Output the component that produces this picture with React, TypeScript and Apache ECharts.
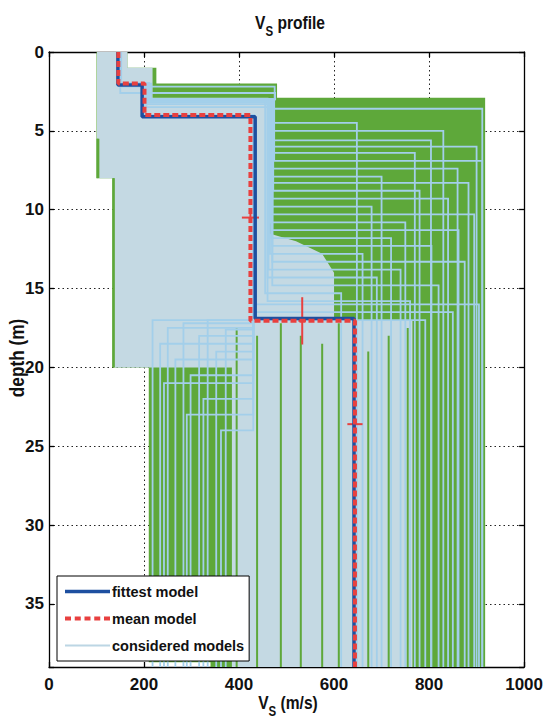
import React, { useEffect, useRef } from "react";
import * as echarts from "echarts";

const FONT = "'Liberation Sans Narrow', 'Liberation Sans', Arial, sans-serif";
const W = 546;
const H = 722;

// axes
const vsMin = 0;
const vsMax = 1000;
const vsStep = 200;
const depthMin = 0;
const depthMax = 39;
const depthStep = 5;

// fittest and mean model (layer velocities, interface depths)
const fittestVs = [145, 196, 434, 642];
const fittestInterfaces = [2.1, 4.1, 16.9];
const meanVs = [146, 201, 424, 644];
const meanInterfaces = [2.0, 4.0, 17.05];
// [vs, depth, vs half-width, depth half-width]
const meanErrorBars = [
  [424, 10.5, 18, 0.35],
  [533, 17.05, 8, 1.5],
  [644, 23.6, 16, 0.35],
];

// envelope of all considered models (vs, depth)
const allModelsEnvelope = [
  [100, 0], [165, 0], [165, 1.0], [226, 1.0], [226, 2.0], [480, 2.0], [480, 2.9],
  [918, 2.9], [918, 39], [340, 39], [340, 38.7], [210, 38.7], [210, 20], [133, 20],
  [133, 8], [100, 8],
];
// dense low-misfit zones
const goodZoneUpper = [
  [101, 0], [165, 0], [165, 1.0], [218, 1.0], [218, 2.9], [462, 2.9], [462, 11.5],
  [520, 12.0], [575, 12.8], [600, 14.0], [600, 17.2], [462, 17.2], [462, 20.0],
  [138, 20.0], [138, 8.0], [106, 8.0], [106, 5.5], [101, 5.5],
];
const goodZoneLower = [
  [385, 17.0], [765, 17.0], [765, 39], [385, 39],
];

// considered models: [vs1, z1, vs2, z2, vs3, z3, vs4]
const consideredModels = [
  [150, 2.0, 210, 3.0, 470, 3.6, 912],
  [150, 2.0, 205, 3.1, 472, 4.5, 648],
  [148, 2.1, 200, 3.2, 468, 5.0, 830],
  [152, 2.0, 215, 3.0, 470, 5.6, 804],
  [150, 2.2, 475, 3.0, 466, 6.0, 900],
  [150, 2.0, 205, 3.3, 470, 6.4, 770],
  [150, 2.0, 210, 3.0, 474, 6.9, 912],
  [150, 2.6, 476, 3.0, 470, 7.4, 860],
  [150, 2.0, 205, 3.5, 468, 7.9, 700],
  [150, 2.0, 210, 3.1, 470, 8.3, 883],
  [150, 2.0, 210, 3.0, 472, 8.8, 780],
  [150, 2.0, 210, 3.0, 470, 9.3, 840],
  [150, 2.0, 210, 3.0, 468, 9.8, 679],
  [150, 2.0, 210, 3.0, 470, 10.3, 895],
  [150, 2.0, 210, 3.0, 466, 10.8, 750],
  [150, 2.0, 210, 3.0, 470, 11.3, 862],
  [150, 2.0, 210, 3.0, 468, 11.8, 720],
  [150, 2.0, 210, 3.0, 470, 12.3, 805],
  [150, 2.0, 210, 3.0, 465, 12.8, 660],
  [150, 2.0, 210, 3.0, 470, 13.3, 875],
  [150, 2.0, 210, 3.0, 462, 13.8, 740],
  [150, 2.0, 210, 3.0, 460, 14.3, 690],
  [150, 2.0, 210, 3.0, 470, 14.8, 820],
  [150, 2.0, 210, 3.0, 455, 15.3, 615],
  [150, 2.0, 210, 3.0, 460, 15.8, 760],
  [150, 2.0, 200, 4.0, 430, 17.0, 218],
  [150, 2.0, 200, 4.0, 430, 18.5, 234],
  [150, 2.0, 200, 4.0, 430, 21.0, 242],
  [150, 2.0, 200, 4.0, 430, 17.5, 250],
  [150, 2.0, 200, 4.0, 430, 19.5, 266],
  [150, 2.0, 200, 4.0, 430, 17.2, 283],
  [150, 2.0, 200, 4.0, 430, 23.0, 290],
  [150, 2.0, 200, 4.0, 430, 20.5, 298],
  [150, 2.0, 200, 4.0, 430, 18.0, 316],
  [150, 2.0, 200, 4.0, 430, 22.0, 325],
  [150, 2.0, 200, 4.0, 430, 17.0, 334],
  [150, 2.0, 200, 4.0, 430, 19.0, 352],
  [150, 2.0, 200, 4.0, 430, 24.0, 362],
  [150, 2.0, 200, 4.0, 430, 17.6, 372],
  [150, 2.0, 200, 4.0, 430, 17.0, 792],
  [150, 2.0, 200, 4.0, 430, 16.5, 850],
  [150, 2.0, 200, 4.0, 430, 16.0, 905],
];

// higher-misfit model half-spaces inside the dense zones: [vs, zTop, zBottom]
const poorModelStripes = [
  [102, 5.5, 8], [136, 8, 20],
  [395, 17.5, 39], [438, 18, 39], [488, 17.2, 39], [530, 18, 39], [575, 18.5, 39],
  [610, 17.2, 39], [672, 19, 39], [715, 18, 39], [755, 17.5, 39],
];

const GREEN = "#5ea83a";
const LIGHT = "#c4d9e3";
const STRIPE = "#a3cfea";
const BLUE = "#1d4fa0";
const RED = "#e8403f";
const PALE = "#bcd6e4";

function profile(vs: number[], z: number[]) {
  const pts: number[][] = [];
  let top = depthMin;
  for (let i = 0; i < vs.length; i++) {
    const bottom = i < z.length ? z[i] : depthMax;
    pts.push([vs[i], top], [vs[i], bottom]);
    top = bottom;
  }
  return pts;
}

const consideredProfiles = consideredModels.map((m) =>
  profile([m[0], m[2], m[4], m[6]], [m[1], m[3], m[5]])
);

// legend icons (invisible corner dots fix the 45x14 box)
const BOX = "M0 0h0.01v0.01H0zM44.99 13.99h0.01v0.01h-0.01z";
const ICON_SOLID = `path://${BOX}M0 5.2h45v3.6H0z`;
const ICON_DASH = `path://${BOX}M0 5h6v4H0zM9.75 5h6v4h-6zM19.5 5h6v4h-6zM29.25 5h6v4h-6zM39 5h6v4h-6z`;
const ICON_THIN = `path://${BOX}M0 6h45v2H0z`;

function zoneSeries(pts: number[][], color: string) {
  return {
    type: "custom",
    silent: true,
    clip: true,
    data: [pts[0]],
    renderItem: (_params: any, api: any) => ({
      type: "polygon",
      shape: { points: pts.map((p) => api.coord(p)) },
      style: { fill: color, stroke: null },
    }),
  };
}

export default function App() {
  const ref = useRef<HTMLDivElement>(null);

  useEffect(() => {
    if (!ref.current) return;
    const chart = echarts.init(ref.current, null, { renderer: "svg" });

    const ctx = document.createElement("canvas").getContext("2d") as CanvasRenderingContext2D;
    const measure = (t: string, size: number) => {
      ctx.font = `bold ${size}px ${FONT}`;
      return ctx.measureText(t).width;
    };

    const subText = (cx: number, cy: number, main: string, sub: string, rest: string, size: number, subSize: number, drop: number, sx: number) => {
      const w1 = measure(main, size) * sx;
      const w2 = measure(sub, subSize) * sx;
      const w3 = measure(rest, size) * sx;
      const x0 = cx - (w1 + w2 + w3) / 2;
      const base = { fontFamily: FONT, fontWeight: "bold", fill: "#111", textAlign: "left", textVerticalAlign: "middle", align: "left", verticalAlign: "middle" };
      return [
        { type: "text", x: x0, y: cy, scaleX: sx, style: { ...base, text: main, fontSize: size } },
        { type: "text", x: x0 + w1, y: cy + drop, scaleX: sx, style: { ...base, text: sub, fontSize: subSize } },
        { type: "text", x: x0 + w1 + w2, y: cy, scaleX: sx, style: { ...base, text: rest, fontSize: size } },
      ];
    };

    const axisLine = { show: true, onZero: false, lineStyle: { color: "#000", width: 1.3 } };
    const axisTick = { show: true, inside: true, length: 5, lineStyle: { color: "#000", width: 1.3 } };
    const split = { show: true, lineStyle: { color: "#222", width: 1, type: [1.5, 3] } };
    const labelStyle = { fontFamily: FONT, fontSize: 17, fontWeight: "bold", color: "#111" };

    const option: any = {
      animation: false,
      backgroundColor: "#ffffff",
      grid: { left: 49, right: 17, top: 52, bottom: 55, containLabel: false },
      xAxis: [
        { type: "value", min: vsMin, max: vsMax, interval: vsStep, position: "bottom", axisLine, axisTick, axisLabel: { ...labelStyle, margin: 9, formatter: (v: number) => String(v) }, splitLine: split },
        { type: "value", min: vsMin, max: vsMax, interval: vsStep, position: "top", axisLine, axisTick, axisLabel: { show: false }, splitLine: { show: false } },
      ],
      yAxis: [
        { type: "value", min: depthMin, max: depthMax, interval: depthStep, inverse: true, position: "left", axisLine, axisTick, axisLabel: { ...labelStyle, margin: 5, formatter: (v: number) => (v % depthStep === 0 ? String(v) : "") }, splitLine: split },
        { type: "value", min: depthMin, max: depthMax, interval: depthStep, inverse: true, position: "right", axisLine, axisTick, axisLabel: { show: false }, splitLine: { show: false } },
      ],
      legend: {
        data: [
          { name: "fittest model", icon: ICON_SOLID },
          { name: "mean model", icon: ICON_DASH },
          { name: "considered models", icon: ICON_THIN },
        ],
        orient: "vertical",
        left: 57,
        top: 576,
        itemWidth: 45,
        itemHeight: 14,
        itemGap: 12,
        padding: [8, 5, 8, 8],
        backgroundColor: "#fff",
        borderColor: "#000",
        borderWidth: 1,
        borderRadius: 0,
        selectedMode: false,
        textStyle: { fontFamily: FONT, fontSize: 14.5, fontWeight: "bold", color: "#111", padding: [0, 0, 0, -3] },
      },
      graphic: [
        ...subText(290, 22, "V", "S", " profile", 19, 14, 9, 0.82),
        ...subText(288, 702, "V", "S", " (m/s)", 19, 14, 9, 0.82),
        { type: "text", x: 17, y: 358, rotation: Math.PI / 2, scaleX: 0.86, style: { text: "depth (m)", fontFamily: FONT, fontWeight: "bold", fontSize: 20, fill: "#111", textAlign: "center", textVerticalAlign: "middle", align: "center", verticalAlign: "middle" } },
      ],
      series: [
        zoneSeries(allModelsEnvelope, GREEN),
        zoneSeries(goodZoneUpper, LIGHT),
        zoneSeries(goodZoneLower, LIGHT),
        {
          type: "custom",
          silent: true,
          clip: true,
          data: poorModelStripes.map((s) => [s[0], s[1]]),
          renderItem: (params: any, api: any) => {
            const s = poorModelStripes[params.dataIndex];
            const a = api.coord([s[0], s[1]]);
            const b = api.coord([s[0], s[2]]);
            return { type: "line", shape: { x1: a[0], y1: a[1], x2: b[0], y2: b[1] }, style: { stroke: GREEN, lineWidth: 2 } };
          },
        },
        {
          type: "custom",
          silent: true,
          clip: true,
          data: consideredModels.map((m) => [m[6], m[5]]),
          renderItem: (params: any, api: any) => {
            const pts = consideredProfiles[params.dataIndex].map((p) => api.coord(p));
            return { type: "polyline", shape: { points: pts }, style: { stroke: STRIPE, lineWidth: 1.8, fill: null } };
          },
        },
        {
          name: "considered models",
          type: "line",
          data: [],
          symbol: "none",
          itemStyle: { color: PALE },
          lineStyle: { color: PALE, width: 2 },
        },
        {
          name: "fittest model",
          type: "line",
          data: profile(fittestVs, fittestInterfaces),
          symbol: "none",
          silent: true,
          itemStyle: { color: BLUE },
          lineStyle: { color: BLUE, width: 3.5 },
        },
        {
          name: "mean model",
          type: "line",
          data: profile(meanVs, meanInterfaces),
          symbol: "none",
          silent: true,
          itemStyle: { color: RED },
          lineStyle: { color: RED, width: 4, type: [6, 3] },
        },
        {
          type: "custom",
          silent: true,
          clip: true,
          data: meanErrorBars.map((e) => [e[0], e[1]]),
          renderItem: (params: any, api: any) => {
            const e = meanErrorBars[params.dataIndex];
            const h1 = api.coord([e[0] - e[2], e[1]]);
            const h2 = api.coord([e[0] + e[2], e[1]]);
            const v1 = api.coord([e[0], e[1] - e[3]]);
            const v2 = api.coord([e[0], e[1] + e[3]]);
            const st = { stroke: RED, lineWidth: 2 };
            return {
              type: "group",
              children: [
                { type: "line", shape: { x1: h1[0], y1: h1[1], x2: h2[0], y2: h2[1] }, style: st },
                { type: "line", shape: { x1: v1[0], y1: v1[1], x2: v2[0], y2: v2[1] }, style: st },
              ],
            };
          },
        },
      ],
    };

    chart.setOption(option);
    return () => chart.dispose();
  }, []);

  return <div ref={ref} style={{ position: "fixed", left: 0, top: 0, width: W, height: H }} />;
}
